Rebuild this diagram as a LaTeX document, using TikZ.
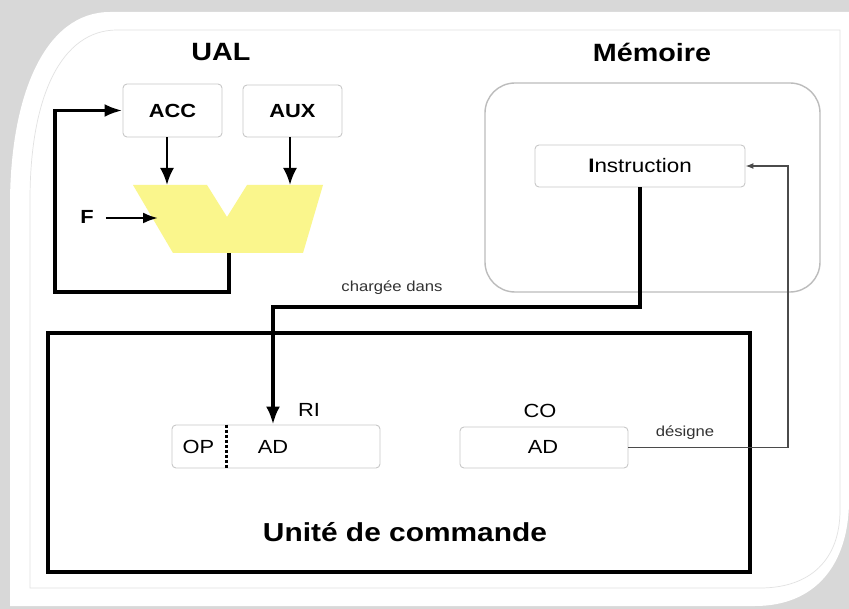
\documentclass[tikz,border=0pt]{standalone}
\usepackage{fontspec}
\setmainfont{Liberation Sans}
\usetikzlibrary{arrows.meta}
\definecolor{bggray}{RGB}{216,216,216}
\definecolor{frameline}{RGB}{226,226,226}
\definecolor{boxline}{RGB}{200,200,200}
\definecolor{memline}{RGB}{188,188,188}
\definecolor{aluyellow}{RGB}{250,246,140}
\definecolor{thinline}{RGB}{75,75,75}
\newcommand\wx[1]{\scalebox{1.15}[1]{#1}}
\newcommand\fsz[1]{\fontsize{#1}{#1}\selectfont}
\begin{document}
\begin{tikzpicture}[x=1pt,y=-1pt,
  titletext/.style={font=\fsz{25}\bfseries, inner sep=0pt},
  regbox/.style={draw=boxline, line width=0.9pt, rounded corners=4pt, inner sep=0pt},
  regtext/.style={font=\fsz{19}, inner sep=0pt},
  smalltext/.style={font=\fsz{14.5}, text=black!80, inner sep=0pt},
  midarrow/.style={line width=2.6pt, -{Latex[length=17pt,width=14pt]}},
  farrow/.style={line width=2.4pt, -{Latex[length=15pt,width=11pt]}},
  fbline/.style={line width=3.5pt, -{Latex[length=18pt,width=13pt]}},
  loadline/.style={line width=4pt, -{Latex[length=18pt,width=14pt]}},
  desline/.style={draw=thinline, line width=1.4pt, -{Latex[length=8pt,width=6pt]}}
]
\useasboundingbox (0,0) rectangle (849,609);
% frame
\fill[bggray] (0,0) rectangle (849,609);
\fill[white] (110,12) -- (849,12) -- (849,500) .. controls (849,565) and (815,606) .. (755,606) -- (10,606) -- (10,205) .. controls (10,95) and (45,12) .. (110,12) -- cycle;
\draw[frameline, line width=0.7pt] (117,30) -- (840,30) -- (840,510) .. controls (840,560) and (810,588) .. (760,588) -- (30,588) -- (30,200) .. controls (30,95) and (62,30) .. (117,30) -- cycle;

% titles
\node[titletext] (ual) at (221,52) {\wx{UAL}};
\node[titletext] (mem) at (652,52) {\wx{Mémoire}};

% UAL registers
\node[regbox, minimum width=99pt, minimum height=53pt, font=\fsz{19}\bfseries] (acc) at (172.5,110.5) {\wx{ACC}};
\node[regbox, minimum width=99pt, minimum height=52pt, font=\fsz{19}\bfseries] (aux) at (292.5,111) {\wx{AUX}};

% ALU shape
\fill[aluyellow] (133,185) -- (207,185) -- (227,217) -- (247,185) -- (323,185) -- (303,253) -- (173,253) -- cycle;
\coordinate (aluA) at (167,185);
\coordinate (aluB) at (290,185);
\coordinate (aluF) at (158,218);
\coordinate (aluO) at (229,253);
\coordinate (fb) at (55,292);

\node[font=\fsz{19}\bfseries, inner sep=0pt] (f) at (87,217) {\wx{F}};
\draw[midarrow] (acc.south -| aluA) -- (aluA);
\draw[midarrow] (aux.south -| aluB) -- (aluB);
\draw[farrow, shorten <=12pt] (f.east |- aluF) -- (aluF);
\draw[fbline] (aluO) |- (fb) |- (acc.west);

% memory
\node[draw=memline, line width=1.4pt, rounded corners=30pt, minimum width=335pt, minimum height=209pt] (memb) at (652.5,187.5) {};
\node[regbox, minimum width=210pt, minimum height=42pt, font=\fsz{19.5}] (instr) at (640,166) {\wx{\textbf{I}nstruction}};

% control unit
\node[draw=black, line width=3.5pt, minimum width=702pt, minimum height=239pt, inner sep=0pt] (uc) at (399,452.5) {};
\node[font=\fsz{26}\bfseries, inner sep=0pt] (uclbl) at (405,532) {\wx{Unité de commande}};

\node[regbox, minimum width=208pt, minimum height=43pt] (ri) at (276,446.5) {};
\node[regtext] (op) at (198.5,447) {\wx{OP}};
\node[regtext] (riad) at (273,447) {\wx{AD}};
\draw[line width=2.2pt, dash pattern=on 3pt off 2pt] ([xshift=55pt]ri.north west) -- ([xshift=55pt]ri.south west);
\node[regtext] (rilbl) at (309,410) {\wx{RI}};

\node[regbox, minimum width=168pt, minimum height=41pt] (co) at (544,447.5) {};
\node[regtext] (coad) at (543,447) {\wx{AD}};
\node[regtext] (colbl) at (540,411) {\wx{CO}};

% connectors
\coordinate (chg) at (273,307);
\draw[loadline] (instr.south) |- (chg) -- (chg |- ri.north);
\node[smalltext] (chglbl) at (392,288) {\wx{chargée dans}};

\coordinate (dsg) at (788,300);
\draw[desline] (co.east) -| (dsg) |- (instr.east);
\node[smalltext] (dsglbl) at (685,433) {\wx{désigne}};
\end{tikzpicture}
\end{document}
